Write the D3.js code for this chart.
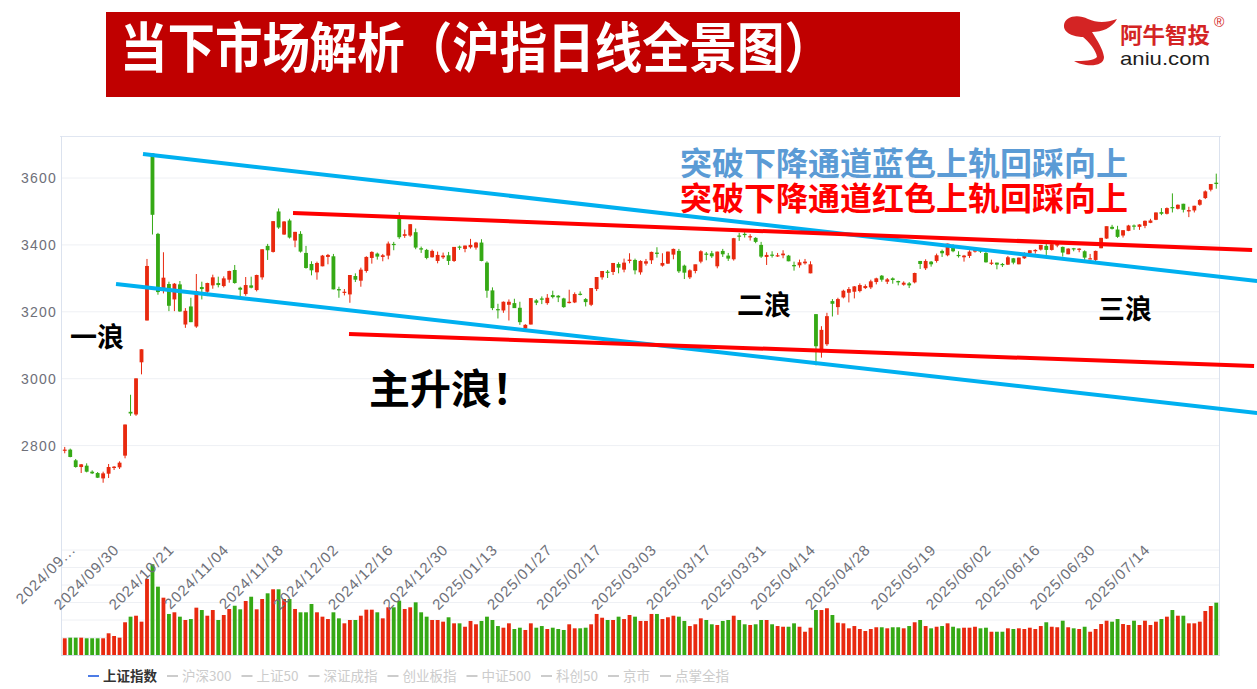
<!DOCTYPE html>
<html><head><meta charset="utf-8">
<script src="https://cdn.jsdelivr.net/npm/d3@7"></script>
<style>
html,body{margin:0;padding:0;background:#fff;}
svg{display:block;font-family:"Noto Sans CJK SC","Noto Sans",sans-serif;}
</style></head>
<body>
<svg id="chart" width="1257" height="689"></svg>
<script>
// ---------------- DATA ----------------
const dates = [
"2024/09/05","2024/09/06","2024/09/09","2024/09/10","2024/09/11","2024/09/12","2024/09/13","2024/09/18","2024/09/19","2024/09/20","2024/09/23","2024/09/24","2024/09/25","2024/09/26","2024/09/27","2024/09/30",
"2024/10/08","2024/10/09","2024/10/10","2024/10/11","2024/10/14","2024/10/15","2024/10/16","2024/10/17","2024/10/18","2024/10/21","2024/10/22","2024/10/23","2024/10/24","2024/10/25","2024/10/28","2024/10/29","2024/10/30","2024/10/31",
"2024/11/01","2024/11/04","2024/11/05","2024/11/06","2024/11/07","2024/11/08","2024/11/11","2024/11/12","2024/11/13","2024/11/14","2024/11/15","2024/11/18","2024/11/19","2024/11/20","2024/11/21","2024/11/22","2024/11/25","2024/11/26","2024/11/27","2024/11/28","2024/11/29",
"2024/12/02","2024/12/03","2024/12/04","2024/12/05","2024/12/06","2024/12/09","2024/12/10","2024/12/11","2024/12/12","2024/12/13","2024/12/16","2024/12/17","2024/12/18","2024/12/19","2024/12/20","2024/12/23","2024/12/24","2024/12/25","2024/12/26","2024/12/27","2024/12/30","2024/12/31",
"2025/01/02","2025/01/03","2025/01/06","2025/01/07","2025/01/08","2025/01/09","2025/01/10","2025/01/13","2025/01/14","2025/01/15","2025/01/16","2025/01/17","2025/01/20","2025/01/21","2025/01/22","2025/01/23","2025/01/24","2025/01/27",
"2025/02/05","2025/02/06","2025/02/07","2025/02/10","2025/02/11","2025/02/12","2025/02/13","2025/02/14","2025/02/17","2025/02/18","2025/02/19","2025/02/20","2025/02/21","2025/02/24","2025/02/25","2025/02/26","2025/02/27","2025/02/28",
"2025/03/03","2025/03/04","2025/03/05","2025/03/06","2025/03/07","2025/03/10","2025/03/11","2025/03/12","2025/03/13","2025/03/14","2025/03/17","2025/03/18","2025/03/19","2025/03/20","2025/03/21","2025/03/24","2025/03/25","2025/03/26","2025/03/27","2025/03/28","2025/03/31",
"2025/04/01","2025/04/02","2025/04/03","2025/04/07","2025/04/08","2025/04/09","2025/04/10","2025/04/11","2025/04/14","2025/04/15","2025/04/16","2025/04/17","2025/04/18","2025/04/21","2025/04/22","2025/04/23","2025/04/24","2025/04/25","2025/04/28","2025/04/29","2025/04/30",
"2025/05/06","2025/05/07","2025/05/08","2025/05/09","2025/05/12","2025/05/13","2025/05/14","2025/05/15","2025/05/16","2025/05/19","2025/05/20","2025/05/21","2025/05/22","2025/05/23","2025/05/26","2025/05/27","2025/05/28","2025/05/29","2025/05/30",
"2025/06/03","2025/06/04","2025/06/05","2025/06/06","2025/06/09","2025/06/10","2025/06/11","2025/06/12","2025/06/13","2025/06/16","2025/06/17","2025/06/18","2025/06/19","2025/06/20","2025/06/23","2025/06/24","2025/06/25","2025/06/26","2025/06/27","2025/06/30",
"2025/07/01","2025/07/02","2025/07/03","2025/07/04","2025/07/07","2025/07/08","2025/07/09","2025/07/10","2025/07/11","2025/07/14","2025/07/15","2025/07/16","2025/07/17","2025/07/18","2025/07/21","2025/07/22","2025/07/23"
];

const openP = [
2785,2788,2756,2736,2740,2722,2718,2702,2716,2733,
2735,2770,2901,2893,3049,3174,3674,3433,3270,3283,
3237,3282,3162,3216,3156,3274,3260,3279,3286,3277,
3296,3325,3272,3253,3279,3265,3303,3397,3379,3500,
3431,3473,3413,3433,3376,3343,3318,3336,3364,3366,
3268,3258,3252,3307,3293,3322,3361,3374,3364,3368,
3403,3486,3427,3428,3438,3390,3385,3363,3352,3363,
3369,3352,3395,3388,3393,3392,3407,3347,3264,3208,
3204,3221,3226,3212,3150,3162,3234,3240,3226,3250,
3248,3240,3226,3228,3254,3238,3221,3268,3303,3320,
3319,3343,3326,3352,3355,3318,3344,3354,3377,3338,
3344,3371,3382,3338,3303,3322,3350,3374,3375,3336,
3382,3368,3357,3428,3433,3424,3421,3400,3364,3371,
3366,3369,3368,3340,3339,3345,3315,3193,3079,3103,
3232,3214,3243,3257,3260,3262,3271,3273,3289,3308,
3290,3300,3292,3281,3285,3288,3352,3330,3350,3352,
3382,3369,3396,3370,3363,3367,3380,3386,3376,3344,
3347,3343,3341,3360,3342,3360,3375,3381,3386,3397,
3385,3398,3394,3372,3390,3385,3381,3358,3355,3390,
3419,3454,3446,3428,3442,3458,3454,3457,3466,3475,
3498,3493,3513,3508,3523,3500,3503,3520,3540,3565,3586
];
const highP = [
2796,2791,2760,2745,2747,2726,2721,2722,2745,2739,
2753,2863,2952,3001,3088,3358,3674,3436,3378,3290,
3286,3292,3211,3242,3313,3290,3287,3311,3305,3306,
3323,3340,3275,3304,3305,3311,3387,3403,3471,3509,
3471,3478,3439,3441,3397,3351,3350,3370,3373,3373,
3275,3268,3310,3315,3332,3366,3381,3377,3373,3410,
3409,3498,3446,3462,3449,3395,3388,3386,3380,3377,
3379,3393,3398,3398,3418,3409,3417,3351,3273,3224,
3231,3237,3239,3230,3163,3240,3238,3246,3253,3263,
3250,3242,3266,3258,3261,3241,3270,3304,3322,3325,
3346,3348,3359,3375,3359,3354,3358,3380,3393,3375,
3380,3389,3388,3341,3327,3341,3384,3379,3382,3380,
3388,3376,3421,3436,3439,3432,3423,3409,3378,3381,
3376,3384,3370,3350,3356,3358,3351,3193,3157,3197,
3238,3242,3266,3274,3277,3285,3282,3296,3302,3310,
3301,3303,3293,3291,3289,3317,3352,3357,3352,3374,
3386,3404,3402,3381,3370,3384,3391,3387,3386,3356,
3347,3346,3367,3361,3362,3378,3384,3387,3400,3403,
3407,3404,3395,3390,3391,3390,3384,3373,3383,3421,
3455,3460,3457,3444,3460,3461,3462,3473,3478,3497,
3510,3512,3554,3521,3523,3514,3517,3537,3563,3581,3613
];
const lowP = [
2777,2765,2734,2718,2720,2715,2703,2689,2703,2727,
2730,2762,2889,2889,3013,3174,3431,3251,3255,3202,
3202,3200,3152,3169,3152,3237,3247,3269,3273,3273,
3287,3284,3246,3248,3270,3261,3296,3355,3377,3448,
3430,3419,3393,3377,3329,3309,3296,3336,3342,3267,
3242,3249,3227,3289,3275,3317,3344,3356,3351,3357,
3384,3418,3421,3424,3387,3376,3357,3362,3345,3358,
3340,3349,3385,3378,3389,3386,3351,3242,3205,3180,
3197,3174,3212,3161,3140,3162,3220,3223,3221,3240,
3229,3212,3225,3226,3249,3216,3217,3262,3296,3301,
3310,3315,3318,3345,3312,3311,3338,3343,3362,3335,
3343,3357,3316,3298,3298,3315,3345,3354,3361,3330,
3364,3352,3353,3412,3422,3413,3405,3361,3340,3362,
3364,3360,3351,3323,3332,3341,3315,3040,3063,3098,
3186,3191,3240,3228,3240,3258,3268,3268,3282,3290,
3283,3284,3279,3278,3271,3285,3328,3325,3335,3347,
3364,3366,3378,3362,3350,3361,3377,3376,3347,3340,
3327,3334,3340,3342,3342,3358,3372,3374,3383,3370,
3383,3393,3365,3372,3381,3378,3355,3357,3350,3390,
3418,3446,3421,3422,3441,3445,3445,3450,3465,3474,
3489,3491,3497,3506,3497,3483,3497,3517,3537,3560,3568
];
const closeP = [
2788,2766,2736,2744,2722,2717,2704,2717,2736,2737,
2749,2863,2896,3001,3088,3337,3490,3259,3302,3218,
3284,3201,3203,3169,3262,3268,3286,3303,3280,3300,
3322,3286,3266,3280,3272,3310,3387,3384,3471,3452,
3470,3422,3439,3380,3331,3324,3346,3368,3370,3267,
3264,3260,3310,3296,3326,3364,3379,3365,3369,3404,
3402,3423,3432,3462,3392,3386,3361,3382,3370,3368,
3352,3394,3393,3398,3400,3407,3352,3263,3211,3207,
3230,3230,3211,3169,3161,3241,3227,3236,3242,3244,
3243,3214,3230,3253,3251,3229,3271,3304,3322,3318,
3346,3332,3347,3356,3324,3352,3351,3379,3373,3346,
3380,3388,3321,3317,3324,3342,3381,3373,3366,3380,
3372,3359,3420,3426,3430,3426,3409,3365,3370,3370,
3369,3374,3351,3336,3348,3350,3342,3097,3146,3187,
3224,3238,3263,3268,3276,3280,3277,3291,3300,3296,
3297,3295,3288,3287,3279,3316,3343,3352,3342,3369,
3375,3404,3381,3367,3368,3380,3388,3380,3348,3347,
3341,3340,3363,3347,3362,3376,3384,3385,3400,3385,
3402,3403,3377,3389,3387,3389,3362,3360,3382,3421,
3456,3448,3424,3444,3458,3455,3461,3472,3473,3497,
3493,3510,3510,3520,3505,3504,3517,3534,3560,3582,3582
];
const volume = [
191,198,198,198,191,191,191,191,248,217,
198,374,438,449,381,869,1037,781,655,469,
488,438,400,411,541,514,449,514,400,457,
526,563,522,617,666,522,640,705,751,751,
640,640,526,488,488,583,488,438,411,488,
419,362,400,400,449,518,518,488,419,545,
545,621,526,545,602,488,438,400,400,381,
431,362,362,323,389,351,389,438,400,331,
312,362,297,312,286,362,312,331,297,312,
297,286,351,305,305,312,351,469,426,400,
400,438,411,457,438,389,389,469,469,411,
431,449,438,389,331,351,419,400,351,343,
389,400,449,400,351,343,351,400,400,351,
331,323,323,362,323,266,312,514,514,534,
457,369,362,305,331,297,274,297,317,317,
305,317,317,305,331,374,400,331,305,323,
331,362,323,305,312,312,323,305,312,266,
266,266,305,297,305,297,312,297,331,374,
323,317,392,317,305,297,323,266,297,354,
392,381,411,354,343,392,343,392,343,381,
411,438,514,449,449,362,362,381,503,560,598
];

const priceTicks = [2800, 3000, 3200, 3400, 3600];
const volumeTicks = [200, 400, 600, 800, 1000, 1200];
const tickLabels = ["2024/09...","2024/09/30","2024/10/21","2024/11/04","2024/11/18","2024/12/02","2024/12/16","2024/12/30","2025/01/13","2025/01/27","2025/02/17","2025/03/03","2025/03/17","2025/03/31","2025/04/14","2025/04/28","2025/05/19","2025/06/02","2025/06/16","2025/06/30","2025/07/14"];
const tickAt = ["2024/09/18","2024/09/30","2024/10/21","2024/11/04","2024/11/18","2024/12/02","2024/12/16","2024/12/30","2025/01/13","2025/01/27","2025/02/17","2025/03/03","2025/03/17","2025/03/31","2025/04/14","2025/04/28","2025/05/19","2025/06/03","2025/06/16","2025/06/30","2025/07/14"];
const legendNames = ["上证指数","沪深300","上证50","深证成指","创业板指","中证500","科创50","京市","点掌全指"];

// trend lines: [fractional candle index, price]
const blueUpper = [[14.27, 3671.7], [217.45, 3292.1]];
const blueLower = [[9.35, 3283.1], [217.45, 2897.5]];
const redUpper  = [[41.63, 3495.4], [216.54, 3384.8]];
const redLower  = [[51.84, 3133.6], [216.9, 3038.0]];

// ---------------- DRAW ----------------
const UP = "#e8290f", DOWN = "#35a915";
const svg = d3.select("#chart");
const N = dates.length;
const X0 = 62, X1 = 1219;

const x = d3.scaleBand().domain(dates).range([X0, X1]).paddingInner(0.3).paddingOuter(0.15);
const xIdx = d3.scaleLinear().domain([-0.5, N - 0.5]).range([X0, X1]);
const cx = d => x(d) + x.bandwidth() / 2;
const y = d3.scaleLinear().domain([2800, 3600]).range([445.6, 178]);
const yv = d3.scaleLinear().domain([0, 1200]).range([655, 550]);

// title banner
svg.append("rect").attr("x", 106).attr("y", 12).attr("width", 854).attr("height", 85).attr("fill", "#C00000");
svg.append("text").attr("x", 120).attr("y", 68)
  .attr("font-size", 54).attr("font-weight", 700).attr("fill", "#fff")
  .attr("textLength", 712).attr("lengthAdjust", "spacingAndGlyphs")
  .text("当下市场解析（沪指日线全景图）");

// logo
svg.append("path").attr("fill", "#d42424")
  .attr("d", "M1064,25 C1065,16 1078,14 1088,19 C1097,23 1106,23 1117,19 C1112,28 1102,32 1092,32 C1097,40 1103,49 1104,57 C1104,64 1096,66 1086,65 C1081,64 1077,63 1074,61 C1083,61 1094,61 1097,57 C1096,50 1089,42 1083,37 C1074,37 1063,33 1064,25 Z");
svg.append("text").attr("x", 1120).attr("y", 43).attr("font-size", 22).attr("font-weight", 700)
  .attr("fill", "#d42424").attr("textLength", 90).attr("lengthAdjust", "spacingAndGlyphs").text("阿牛智投");
svg.append("text").attr("x", 1214).attr("y", 27).attr("font-size", 14).attr("fill", "#d42424")
  .style("font-family", "'Liberation Sans',sans-serif").text("®");
svg.append("text").attr("x", 1120).attr("y", 65).attr("font-size", 19).attr("fill", "#1e1e1e")
  .style("font-family", "'Liberation Sans',sans-serif")
  .attr("textLength", 90).attr("lengthAdjust", "spacingAndGlyphs").text("aniu.com");

// grid lines
const grid = svg.append("g");
grid.selectAll("line.pg").data(priceTicks).join("line")
  .attr("x1", X0).attr("x2", X1).attr("y1", d => y(d)).attr("y2", d => y(d))
  .attr("stroke", "#eef0f4").attr("stroke-width", 1);
grid.selectAll("line.vg").data(volumeTicks).join("line")
  .attr("x1", X0).attr("x2", X1).attr("y1", d => yv(d)).attr("y2", d => yv(d))
  .attr("stroke", "#eef0f4").attr("stroke-width", 1);
// frame
grid.append("line").attr("x1", 60).attr("x2", 1221).attr("y1", 136.5).attr("y2", 136.5).attr("stroke", "#e0e6f1");
grid.append("line").attr("x1", 61.5).attr("x2", 61.5).attr("y1", 136).attr("y2", 656).attr("stroke", "#dbe2ee");
grid.append("line").attr("x1", 1219.5).attr("x2", 1219.5).attr("y1", 136).attr("y2", 656).attr("stroke", "#dbe2ee");
grid.append("line").attr("x1", 61).attr("x2", 1220).attr("y1", yv(0) + 0.5).attr("y2", yv(0) + 0.5).attr("stroke", "#d4dcea");

// y labels
svg.append("g").selectAll("text").data(priceTicks).join("text")
  .attr("x", 57).attr("y", d => y(d)).attr("dy", "0.35em").attr("text-anchor", "end")
  .attr("font-size", 14).attr("fill", "#6e7079").attr("letter-spacing", 1.2)
  .style("font-family", "'Liberation Sans',sans-serif").text(d => d);

// volume bars
svg.append("g").selectAll("rect").data(dates).join("rect")
  .attr("x", d => x(d)).attr("width", x.bandwidth())
  .attr("y", (d, i) => yv(volume[i])).attr("height", (d, i) => yv(0) - yv(volume[i]))
  .attr("fill", (d, i) => closeP[i] >= openP[i] ? UP : DOWN);

// candles
const cg = svg.append("g");
cg.selectAll("line").data(dates).join("line")
  .attr("x1", d => cx(d)).attr("x2", d => cx(d))
  .attr("y1", (d, i) => y(highP[i])).attr("y2", (d, i) => y(lowP[i]))
  .attr("stroke", (d, i) => closeP[i] >= openP[i] ? UP : DOWN).attr("stroke-width", 1);
cg.selectAll("rect").data(dates).join("rect")
  .attr("x", d => x(d)).attr("width", x.bandwidth())
  .attr("y", (d, i) => y(Math.max(openP[i], closeP[i])))
  .attr("height", (d, i) => Math.max(1.2, Math.abs(y(openP[i]) - y(closeP[i]))))
  .attr("fill", (d, i) => closeP[i] >= openP[i] ? UP : DOWN);

// x labels
svg.append("g").selectAll("text").data(tickAt).join("text")
  .attr("transform", d => `translate(${cx(d) - 30.5},547) rotate(-45)`)
  .attr("text-anchor", "end").attr("dy", "0.35em")
  .attr("font-size", 15).attr("fill", "#6e7079").attr("letter-spacing", 1)
  .style("font-family", "'Liberation Sans',sans-serif")
  .text((d, i) => tickLabels[i]);

// trend lines
const tl = d3.line().x(p => xIdx(p[0])).y(p => y(p[1]));
[[blueUpper, "#00b0f0"], [blueLower, "#00b0f0"], [redUpper, "#ff0000"], [redLower, "#ff0000"]]
  .forEach(([pts, col]) => {
    svg.append("path").attr("d", tl(pts)).attr("stroke", col).attr("stroke-width", 4)
      .attr("fill", "none").attr("stroke-linecap", "butt");
  });

// annotations
const ann = (t, xx, yy, fs, col) => svg.append("text").attr("x", xx).attr("y", yy)
  .attr("font-size", fs).attr("font-weight", 700).attr("fill", col).text(t);
ann("突破下降通道蓝色上轨回踩向上", 680, 175, 32, "#5b9bd5");
ann("突破下降通道红色上轨回踩向上", 680, 210, 32, "#ff0000");
ann("一浪", 70, 347, 27, "#000");
ann("主升浪！", 369, 404, 41, "#000");
ann("二浪", 737, 315, 27, "#000");
ann("三浪", 1098, 319, 27, "#000");

// legend
const lg = svg.append("g");
let lx = 88;
legendNames.forEach((name, i) => {
  const active = i === 0;
  lg.append("line").attr("x1", lx).attr("x2", lx + 11).attr("y1", 676).attr("y2", 676)
    .attr("stroke", active ? "#4d7ce6" : "#cccccc").attr("stroke-width", 2);
  const t = lg.append("text").attr("x", lx + 15).attr("y", 676).attr("dy", "0.35em")
    .attr("font-size", 13.5).attr("font-weight", active ? 700 : 400)
    .attr("fill", active ? "#333" : "#cccccc").text(name);
  lx += 15 + t.node().getComputedTextLength() + 10;
});
</script>
</body></html>
